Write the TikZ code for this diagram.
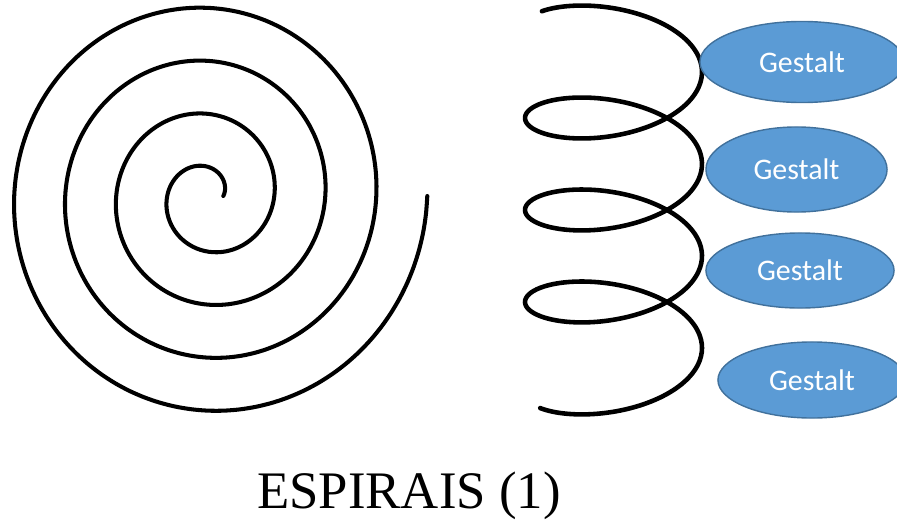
\documentclass[tikz,border=0pt]{standalone}
\usepackage{fontspec}
\setmainfont{Liberation Serif}
\newfontfamily\carlito{Carlito}
\usetikzlibrary{shapes.geometric}

\definecolor{gestaltfill}{RGB}{91,155,213}
\definecolor{gestaltline}{RGB}{65,113,156}

\begin{document}
\begin{tikzpicture}[
  x=0.01cm, y=-0.01cm,
  curve/.style={line width=1.15pt, black, line cap=round, line join=round},
  coil/.style={curve, line width=1.3pt},
  gestalt/.style={ellipse, draw=gestaltline, line width=0.4pt, fill=gestaltfill,
                  inner sep=0pt, text=white, font=\carlito\fontsize{8.5}{10}\selectfont},
  caption/.style={anchor=base, font=\fontsize{15}{18}\selectfont},
]

% --- Frame ---
\useasboundingbox (0,0) rectangle (897,521);
\clip (0,0) rectangle (897,521);

% --- Flat spiral (left) ---
\draw[curve] plot[domain=0:1440, samples=320, smooth]
  ({208+51*(\x/360+0.3)*cos(\x)}, {196-53*(\x/360+0.3)*sin(\x)});

% --- Coil seen from the side ---
\draw[coil] plot[domain=-144:1226, samples=320, smooth]
  ({613.5+88.5*cos(\x)}, {72+14.64*rad(\x)+40.8*sin(\x)});

% --- Gestalt ellipses ---
\node[gestalt, minimum width=2.04cm, minimum height=0.81cm] (g1) at (802,62) {Gestalt};
\node[gestalt, minimum width=1.81cm, minimum height=0.85cm] (g2) at (796.5,169.5) {Gestalt};
\node[gestalt, minimum width=1.88cm, minimum height=0.75cm] (g3) at (800,270.5) {Gestalt};
\node[gestalt, minimum width=1.88cm, minimum height=0.76cm] (g4) at (812,380) {Gestalt};

% --- Caption ---
\node[caption] (cap) at (409,508) {ESPIRAIS (1)};

\end{tikzpicture}
\end{document}
